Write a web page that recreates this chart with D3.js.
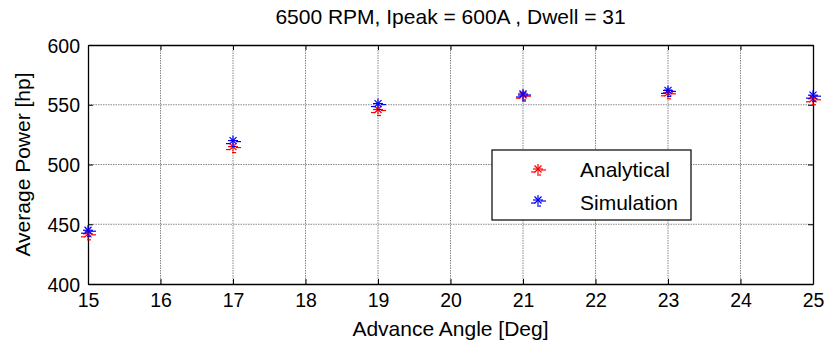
<!DOCTYPE html>
<html><head><meta charset="utf-8">
<script src="https://cdn.jsdelivr.net/npm/d3@7"></script>
<style>body{margin:0;background:#fff}svg{display:block}text{font-family:"Liberation Sans",Arial,sans-serif;fill:#000}</style>
</head><body><svg id="c" width="827" height="349"></svg>
<script>
const angles = [15, 17, 19, 21, 23, 25];
const analytical = [442, 515, 546, 558, 560, 555];
const simulation = [445, 520, 551, 559, 562, 558];
const xTicks = [15,16,17,18,19,20,21,22,23,24,25];
const yTicks = [400,450,500,550,600];
const seriesNames = ["Analytical","Simulation"];
const seriesColors = ["#ff0000","#0000ff"];

const W=827,H=349, m={l:88,r:14,t:45,b:65};
const svg=d3.select("#c");
const x=d3.scaleLinear().domain([15,25]).range([m.l,W-m.r]);
const y=d3.scaleLinear().domain([400,600]).range([H-m.b,m.t]);
const x0=m.l,x1=W-m.r,y0=H-m.b,y1=m.t;

// grid
const g=svg.append("g");
g.selectAll(".gx").data(xTicks.slice(1,-1)).join("line").attr("x1",d=>x(d)).attr("x2",d=>x(d)).attr("y1",y0).attr("y2",y1)
 .attr("stroke","#888").attr("stroke-width",1).attr("stroke-dasharray","1.5,1");
g.selectAll(".gy").data(yTicks.slice(1,-1)).join("line").attr("y1",d=>y(d)).attr("y2",d=>y(d)).attr("x1",x0).attr("x2",x1)
 .attr("stroke","#888").attr("stroke-width",1).attr("stroke-dasharray","1.5,1");

// axes
const ax=svg.append("g").attr("transform",`translate(0,${y0})`).call(d3.axisBottom(x).tickValues(xTicks).tickSizeInner(-5).tickSizeOuter(0).tickPadding(9));
const axT=svg.append("g").attr("transform",`translate(0,${y1})`).call(d3.axisTop(x).tickValues(xTicks).tickSizeInner(-5).tickSizeOuter(0).tickFormat(""));
const ay=svg.append("g").attr("transform",`translate(${x0},0)`).call(d3.axisLeft(y).tickValues(yTicks).tickSizeInner(-5).tickSizeOuter(0).tickPadding(8));
const ayR=svg.append("g").attr("transform",`translate(${x1},0)`).call(d3.axisRight(y).tickValues(yTicks).tickSizeInner(-5).tickSizeOuter(0).tickFormat(""));
[ax,axT,ay,ayR].forEach(a=>{a.select(".domain").attr("stroke","#000").attr("stroke-width",1.3);a.selectAll(".tick line").attr("stroke","#000");
 a.selectAll("text").style("font-size","19.5px").attr("fill","#000").style("font-family","Liberation Sans, Arial, sans-serif");});
ax.selectAll("text").attr("dy","0.72em");
ay.selectAll("text").attr("dy","0.36em");

// marker
function star(sel,cx,cy,col){
  const r=5, s=sel.append("g").attr("transform",`translate(${cx},${cy})`).attr("stroke",col).attr("stroke-width",1.2).attr("fill","none");
  [[-r,0,r,0],[0,-r,0,r],[-r*0.7,-r*0.7,r*0.7,r*0.7],[-r*0.7,r*0.7,r*0.7,-r*0.7]].forEach(p=>s.append("line").attr("x1",p[0]).attr("y1",p[1]).attr("x2",p[2]).attr("y2",p[3]));
  s.append("line").attr("x1",3).attr("y1",1).attr("x2",8).attr("y2",1);
  s.append("line").attr("x1",-3).attr("y1",3).attr("x2",-7).attr("y2",3);
  s.append("line").attr("x1",-1).attr("y1",6).attr("x2",3).attr("y2",6);
}
const ms=svg.append("g");
angles.forEach((a,i)=>star(ms,x(a),y(analytical[i]),seriesColors[0]));
angles.forEach((a,i)=>star(ms,x(a),y(simulation[i]),seriesColors[1]));

// legend
const lg=svg.append("g");
lg.append("rect").attr("x",492).attr("y",150).attr("width",199).attr("height",70).attr("fill","#fff").attr("stroke","#000").attr("stroke-width",1.2);
seriesNames.forEach((n,i)=>{
  star(lg,538,169+i*31,seriesColors[i]);
  lg.append("text").attr("x",580).attr("y",177+i*33).style("font-size","21px").text(n);
});

// titles
svg.append("text").attr("x",(x0+x1)/2).attr("y",24).attr("text-anchor","middle").style("font-size","21px").text("6500 RPM, Ipeak = 600A , Dwell = 31");
svg.append("text").attr("x",(x0+x1)/2).attr("y",336).attr("text-anchor","middle").style("font-size","21px").text("Advance Angle [Deg]");
svg.append("text").attr("transform",`translate(30,${(y0+y1)/2}) rotate(-90)`).attr("text-anchor","middle").style("font-size","21px").text("Average Power [hp]");
</script></body></html>
